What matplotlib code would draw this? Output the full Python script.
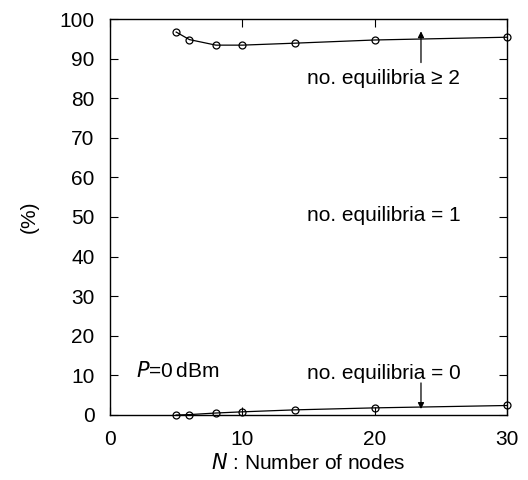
import matplotlib
matplotlib.use("Agg")
import matplotlib.pyplot as plt

plt.rcParams["font.family"] = ["Liberation Sans", "DejaVu Sans"]

nodes = [5, 6, 8, 10, 14, 20, 30]
multi_eq = [96.7, 94.8, 93.4, 93.4, 93.9, 94.7, 95.4]
zero_eq = [0.0, 0.1, 0.5, 0.8, 1.3, 1.8, 2.4]

fig = plt.figure(figsize=(5.28, 4.8), dpi=100)
ax = fig.add_axes([110 / 528, 65 / 480, 397 / 528, 396 / 480])

for ys in (multi_eq, zero_eq):
    ax.plot(nodes, ys, color="black", linewidth=0.9, marker="o", markersize=5,
            markerfacecolor="none", markeredgewidth=0.9, clip_on=False)

ax.set_xlim(0, 30)
ax.set_ylim(0, 100)
ax.set_xticks([0, 10, 20, 30])
ax.set_yticks(range(0, 101, 10))
ax.tick_params(direction="in", top=True, right=True, length=6, labelsize=15, pad=11)
for s in ax.spines.values():
    s.set_linewidth(1.0)

ax.set_xlabel(r"$\it{N}$ : Number of nodes", fontsize=15, labelpad=3)
ax.set_ylabel("(%)", fontsize=15, labelpad=15)

ax.annotate("", xy=(23.5, 97.6), xytext=(23.5, 88.3),
            arrowprops=dict(arrowstyle="-|>", color="black", lw=0.9, mutation_scale=9))
ax.annotate("", xy=(23.5, 0.8), xytext=(23.5, 8.8),
            arrowprops=dict(arrowstyle="-|>", color="black", lw=0.9, mutation_scale=9))

ax.text(14.9, 85, "no. equilibria \u2265 2", fontsize=15, va="center")
ax.text(14.9, 50.3, "no. equilibria = 1", fontsize=15, va="center")
ax.text(14.9, 10.6, "no. equilibria = 0", fontsize=15, va="center")
ax.text(2.0, 11.2, r"$\it{P}$=0$\,$dBm", fontsize=15, va="center")

fig.savefig("out.png", dpi=100)
